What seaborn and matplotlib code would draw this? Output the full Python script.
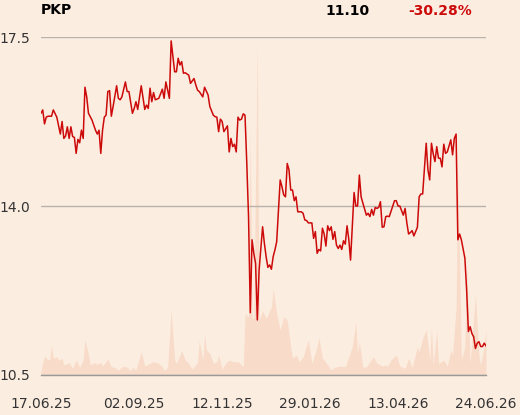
import matplotlib
matplotlib.use("Agg")
import matplotlib.pyplot as plt
import seaborn as sns
import pandas as pd

# trading-day index (0 = 17.06.25) and closing price
price_day = [0, 1, 2, 3, 4, 6, 7, 9, 11, 12, 13, 14, 15, 16, 17, 18, 19, 20, 21, 22,
             23, 24, 25, 26, 27, 29, 31, 32, 33, 34, 35, 36, 37, 38, 39, 40, 41, 43, 44, 45,
             46, 48, 49, 50, 52, 53, 54, 55, 57, 59, 60, 61, 62, 63, 64, 65, 67, 69, 70, 71,
             73, 74, 76, 77, 78, 79, 80, 81, 82, 84, 85, 87, 88, 89, 90, 92, 93, 95, 96, 98,
             99, 100, 101, 102, 103, 104, 106, 107, 108, 109, 110, 111, 112, 113, 114, 115, 116, 117, 118, 119,
             120, 121, 122, 123, 124, 126, 127, 128, 129, 130, 131, 132, 133, 134, 136, 137, 138, 139, 140, 141,
             142, 143, 144, 145, 146, 148, 149, 150, 151, 152, 154, 155, 156, 157, 158, 159, 160, 161, 162, 163,
             164, 165, 166, 167, 168, 169, 170, 171, 172, 173, 174, 175, 176, 178, 179, 180, 181, 182, 183, 185,
             186, 187, 188, 189, 190, 191, 192, 193, 194, 195, 196, 197, 198, 200, 201, 202, 203, 204, 206, 207,
             208, 209, 210, 211, 212, 214, 215, 216, 217, 219, 220, 221, 222, 223, 224, 225, 226, 227, 228, 229,
             230, 231, 233, 234, 235, 236, 237, 238, 239, 241, 242, 243, 244, 245, 246, 247, 248, 249, 250, 251,
             252, 253]
price = [15.92, 15.99, 15.70, 15.84, 15.86, 15.86, 15.99, 15.84, 15.49, 15.75, 15.40, 15.45, 15.64, 15.40, 15.64, 15.44, 15.42, 15.09, 15.38, 15.31,
         15.57, 15.40, 16.46, 16.26, 15.92, 15.78, 15.57, 15.49, 15.57, 15.09, 15.57, 15.84, 15.88, 16.37, 16.39, 15.86, 16.06, 16.49, 16.23, 16.20,
         16.26, 16.57, 16.37, 16.37, 15.92, 16.02, 16.16, 16.00, 16.49, 16.00, 16.09, 16.02, 16.44, 16.16, 16.35, 16.20, 16.23, 16.42, 16.23, 16.57,
         16.23, 17.42, 16.78, 16.78, 17.06, 16.92, 16.99, 16.75, 16.76, 16.71, 16.54, 16.64, 16.51, 16.40, 16.37, 16.26, 16.46, 16.30, 16.06, 15.88,
         15.85, 15.84, 15.54, 15.80, 15.75, 15.54, 15.66, 15.12, 15.40, 15.23, 15.28, 15.12, 15.84, 15.78, 15.80, 15.91, 15.88, 14.89, 13.78, 11.79,
         13.30, 13.02, 12.81, 11.64, 12.67, 13.57, 13.23, 12.95, 12.73, 12.78, 12.69, 12.95, 13.09, 13.26, 14.54, 14.40, 14.23, 14.19, 14.88, 14.75,
         14.33, 14.33, 14.11, 14.19, 13.88, 13.88, 13.85, 13.71, 13.70, 13.65, 13.65, 13.33, 13.47, 13.02, 13.10, 13.07, 13.54, 13.42, 13.17, 13.59,
         13.49, 13.57, 13.31, 13.47, 13.19, 13.12, 13.19, 13.10, 13.28, 13.21, 13.59, 13.31, 12.88, 14.28, 14.00, 14.00, 14.64, 14.19, 14.06, 13.81,
         13.85, 13.78, 13.93, 13.81, 13.97, 13.95, 13.97, 14.09, 13.56, 13.57, 13.78, 13.79, 13.78, 14.00, 14.11, 14.11, 14.00, 14.00, 13.81, 13.95,
         13.65, 13.42, 13.45, 13.49, 13.38, 13.56, 14.19, 14.25, 14.25, 15.30, 14.75, 14.54, 15.30, 15.08, 14.92, 15.23, 14.99, 14.99, 14.81, 15.28,
         15.09, 15.12, 15.37, 15.06, 15.40, 15.49, 13.30, 13.42, 13.30, 12.92, 12.26, 11.40, 11.50, 11.36, 11.29, 11.05, 11.16, 11.19, 11.09, 11.09,
         11.16, 11.10]

# trading volume (thousand shares)
vol_day = [0, 2, 4, 5, 6, 7, 9, 10, 12, 13, 15, 16, 18, 20, 22, 24, 25, 27, 28, 30,
           32, 34, 35, 38, 40, 42, 44, 47, 49, 51, 52, 54, 57, 59, 62, 64, 67, 69, 70, 72,
           74, 76, 77, 80, 82, 84, 86, 89, 90, 92, 93, 94, 96, 98, 100, 101, 103, 105, 107, 109,
           112, 115, 116, 118, 119, 120, 121, 123, 124, 126, 128, 131, 132, 134, 136, 138, 140, 142, 143, 145,
           147, 149, 152, 154, 157, 158, 160, 161, 163, 165, 167, 170, 173, 175, 177, 179, 180, 181, 183, 185,
           187, 189, 191, 194, 196, 197, 199, 202, 204, 207, 209, 211, 214, 215, 217, 219, 221, 222, 223, 225,
           226, 229, 231, 233, 234, 236, 237, 239, 241, 242, 244, 247, 249, 250, 252, 253]
volume = [30, 112, 89, 93, 178, 99, 108, 89, 99, 59, 69, 73, 39, 89, 45, 89, 211, 118, 59, 73,
          65, 73, 53, 93, 49, 45, 30, 53, 45, 26, 45, 30, 138, 53, 69, 79, 69, 49, 26, 45,
          389, 89, 69, 144, 89, 69, 34, 73, 203, 89, 243, 148, 128, 69, 79, 118, 34, 69, 89, 79,
          79, 49, 365, 343, 1497, 337, 337, 1982, 325, 380, 335, 404, 513, 365, 266, 345, 325, 168, 99, 118,
          79, 108, 207, 69, 168, 223, 99, 89, 59, 30, 45, 53, 49, 108, 168, 316, 128, 197, 45, 49,
          79, 108, 69, 53, 59, 53, 89, 118, 53, 39, 99, 45, 168, 138, 217, 270, 89, 290, 59, 266,
          69, 89, 53, 148, 118, 400, 1213, 89, 168, 650, 69, 479, 108, 59, 168, 276]

tick_day = [0, 53, 103, 153, 203, 253]
tick_labels = ["17.06.25", "02.09.25", "12.11.25", "29.01.26", "13.04.26", "24.06.26"]

ticker = "PKP"
last_price = "11.10"
change = "-30.28%"

bg = "#fcede1"
red = "#cc0a0a"
text_col = "#333333"

df_price = pd.DataFrame({"day": price_day, "close": price})
df_vol = pd.DataFrame({"day": vol_day, "volume": volume})

sns.set_style("white")
plt.rcParams["font.family"] = ["DejaVu Sans"]

fig = plt.figure(figsize=(5.2, 4.15), dpi=100, facecolor=bg)
ax = fig.add_axes([0.0788, 0.0964, 0.8558, 0.8144])
ax2 = ax.twinx()

# volume area behind the price line
ax2.fill_between(df_vol["day"], df_vol["volume"], color="#f8dcc9", lw=0)
ax2.set_ylim(0, 2000)
ax2.set_yticks([])
ax2.set_facecolor(bg)
for s in ax2.spines.values():
    s.set_visible(False)

ax.set_zorder(ax2.get_zorder() + 1)
ax.patch.set_visible(False)

sns.lineplot(data=df_price, x="day", y="close", ax=ax, color=red, lw=1.1)

ax.set_xlim(0, 253)
ax.set_ylim(10.5, 17.5)
ax.set_yticks([10.5, 14.0, 17.5])
ax.set_yticklabels(["10.5", "14.0", "17.5"])
ax.yaxis.grid(True, color="#b8b2ac", lw=1)
ax.set_xticks(tick_day)
ax.set_xticklabels(tick_labels)
ax.set_xlabel("")
ax.set_ylabel("")
ax.tick_params(axis="x", length=13, width=1, color="#888888", colors=text_col,
               labelsize=10, pad=3)
ax.tick_params(axis="y", length=0, colors=text_col, labelsize=10, pad=8)
for side in ["top", "right", "left"]:
    ax.spines[side].set_visible(False)
ax.spines["bottom"].set_color("#999999")
ax.spines["bottom"].set_linewidth(1)

fig.text(41 / 520, 1 - 10 / 415, ticker, fontsize=10, fontweight="bold",
         color="black", ha="left", va="center")
fig.text(370 / 520, 1 - 11 / 415, last_price, fontsize=10, fontweight="bold",
         color="black", ha="right", va="center")
fig.text(472 / 520, 1 - 11 / 415, change, fontsize=10, fontweight="bold",
         color=red, ha="right", va="center")

fig.savefig("out.png", dpi=100, facecolor=bg)
